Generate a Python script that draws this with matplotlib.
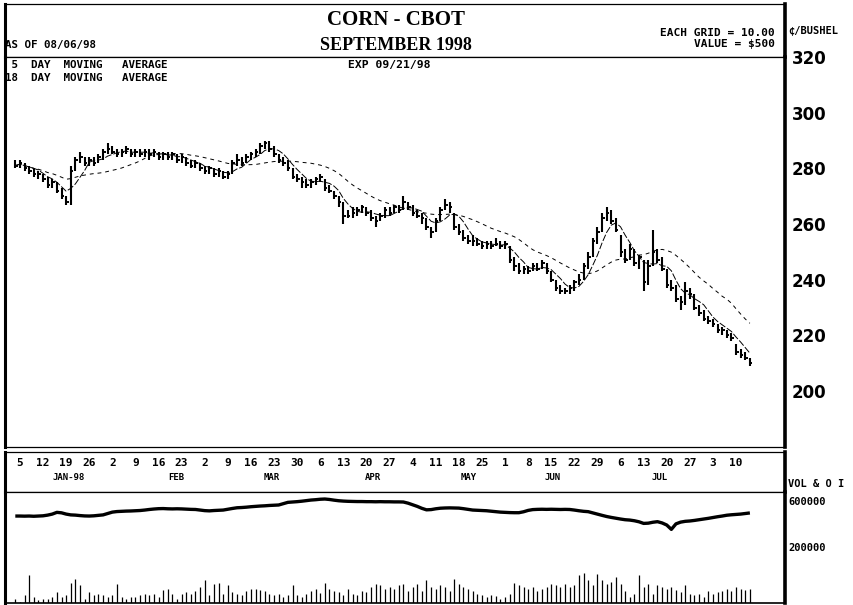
import numpy as np
import pandas as pd
import matplotlib
matplotlib.use("Agg")
import matplotlib.pyplot as plt
from matplotlib.transforms import blended_transform_factory

W, H = 854, 605

# trading days, Dec 26 1997 .. Aug 6 1998
DATES = pd.bdate_range("1997-12-26", "1998-08-06")

CLOSE = [281, 282, 280, 279, 278, 278,
         276, 274, 275, 272, 270, 268, 279, 283, 284, 282, 283, 282, 284, 286, 287, 286,
         285, 286, 287, 285, 286, 285, 286, 285, 286, 284, 285, 284, 285, 283, 284, 282,
         281, 282, 280, 279, 280, 278, 279, 277, 278, 282, 283, 282, 284, 285, 286, 288,
         289, 287, 285, 283, 282, 280, 277, 276, 275, 274, 275, 276, 277, 273, 272, 270,
         268, 263, 263, 264, 265, 266, 264, 262, 261, 263, 265, 264, 266, 265, 268, 266,
         264, 263, 262, 259, 257, 261, 265, 267, 266, 259, 257, 255, 254, 254, 253, 252,
         253, 252, 253, 252, 253, 247, 245, 243, 244, 243, 245, 244, 246, 243, 240, 237,
         236, 236, 237, 239, 240, 245, 248, 254, 257, 262, 264, 261, 258, 250, 247, 251,
         246, 248, 239, 245, 250, 247, 244, 238, 237, 233, 232, 236, 235, 230, 228, 226,
         225, 224, 222, 222, 220, 219, 214, 213, 212, 210]
HIGH = [283, 283, 282, 281, 280, 279,
        278, 277, 276, 275, 273, 270, 281, 284, 286, 284, 284, 284, 285, 287, 289, 288,
        287, 287, 288, 287, 287, 287, 287, 287, 287, 286, 286, 286, 286, 285, 285, 284,
        283, 283, 282, 281, 281, 280, 280, 279, 279, 283, 285, 284, 285, 286, 287, 289,
        290, 290, 288, 285, 284, 283, 280, 278, 277, 276, 276, 277, 278, 276, 274, 272,
        270, 268, 265, 266, 266, 267, 266, 265, 263, 264, 266, 266, 267, 267, 270, 268,
        267, 265, 264, 262, 259, 262, 266, 269, 268, 264, 260, 258, 256, 256, 255, 254,
        254, 254, 255, 254, 254, 252, 248, 246, 245, 245, 246, 246, 247, 246, 243, 240,
        238, 237, 238, 240, 242, 246, 250, 255, 259, 264, 266, 265, 262, 256, 251, 253,
        251, 249, 247, 247, 258, 251, 248, 244, 240, 238, 234, 239, 237, 235, 231, 229,
        227, 226, 224, 223, 222, 221, 217, 215, 214, 212]
LOW = [280, 280, 279, 278, 277, 276,
       275, 273, 273, 271, 269, 267, 267, 279, 282, 281, 281, 281, 282, 283, 285, 285,
       284, 284, 285, 284, 284, 284, 284, 283, 284, 283, 283, 283, 283, 282, 282, 281,
       280, 280, 279, 278, 278, 277, 277, 276, 276, 278, 281, 281, 282, 283, 284, 285,
       287, 286, 284, 282, 281, 279, 276, 275, 273, 273, 273, 274, 275, 272, 271, 269,
       266, 260, 262, 262, 263, 264, 263, 261, 259, 261, 262, 263, 264, 264, 265, 265,
       263, 262, 260, 258, 255, 257, 261, 265, 264, 258, 256, 254, 253, 252, 252, 251,
       251, 251, 252, 251, 251, 246, 243, 242, 242, 242, 243, 243, 244, 242, 239, 236,
       235, 235, 235, 236, 238, 240, 244, 248, 253, 257, 261, 260, 257, 248, 246, 247,
       245, 244, 236, 238, 245, 246, 243, 237, 236, 232, 229, 231, 233, 229, 227, 225,
       224, 223, 221, 220, 219, 218, 213, 212, 211, 209]

# volume, thousands of contracts
VOLUME_K = [12, 3, 24, 84, 18, 9,
            12, 12, 18, 33, 18, 24, 60, 72, 54, 12, 33, 24, 27, 24, 18, 24,
            57, 18, 12, 18, 18, 24, 27, 24, 27, 18, 39, 42, 27, 12, 27, 33,
            27, 36, 48, 69, 24, 57, 60, 27, 54, 33, 27, 24, 36, 42, 42, 39,
            36, 27, 24, 27, 18, 24, 54, 24, 18, 27, 36, 42, 30, 60, 42, 36,
            33, 24, 42, 27, 24, 36, 33, 48, 57, 54, 42, 48, 42, 54, 57, 36,
            48, 57, 36, 69, 48, 42, 54, 48, 36, 72, 57, 48, 42, 36, 27, 24,
            18, 24, 21, 12, 18, 27, 60, 54, 48, 42, 48, 36, 42, 48, 57, 54,
            48, 57, 48, 54, 84, 90, 69, 54, 87, 69, 57, 63, 78, 57, 36, 18,
            27, 84, 48, 57, 27, 54, 48, 42, 48, 39, 33, 54, 27, 24, 27, 18,
            36, 27, 33, 36, 42, 36, 48, 42, 39, 42]
# open interest, thousands of contracts
OPEN_INT_K = [478, 478, 477, 478, 476, 478,
              480, 486, 495, 510, 506, 495, 488, 486, 482, 479, 478, 480, 484, 488, 500, 512,
              517, 519, 521, 522, 524, 526, 530, 535, 539, 542, 543, 541, 540, 541, 540, 538,
              536, 535, 530, 525, 523, 526, 528, 530, 537, 544, 550, 552, 555, 559, 562, 565,
              567, 570, 572, 574, 585, 597, 600, 603, 607, 612, 617, 620, 624, 626, 622, 616,
              611, 608, 606, 605, 604, 604, 603, 603, 602, 603, 602, 602, 601, 601, 600, 590,
              576, 562, 545, 532, 534, 541, 546, 548, 549, 548, 547, 542, 536, 530, 528, 526,
              524, 520, 516, 512, 510, 508, 507, 507, 515, 527, 534, 536, 537, 536, 537, 536,
              535, 536, 535, 530, 524, 519, 516, 505, 494, 484, 474, 466, 459, 452, 446, 443,
              437, 428, 414, 416, 424, 429, 418, 400, 362, 410, 425, 432, 435, 440, 446, 452,
              458, 465, 472, 478, 485, 489, 492, 495, 500, 505]

DAY_LABELS = ["5", "12", "19", "26", "2", "9", "16", "23", "2", "9", "16", "23", "30",
              "6", "13", "20", "27", "4", "11", "18", "25", "1", "8", "15", "22", "29",
              "6", "13", "20", "27", "3", "10"]
MONTH_LABELS = ["JAN-98", "FEB", "MAR", "APR", "MAY", "JUN", "JUL"]
MONTH_POS = [5.5, 28.8, 49.6, 71.4, 92.2, 110.2, 133.5]
PRICE_TICKS = [200, 220, 240, 260, 280, 300, 320]

MONO = "DejaVu Sans Mono"
SERIF = "Liberation Serif"


def rect(x0, y0, x1, y1):
    return [x0 / W, 1 - y1 / H, (x1 - x0) / W, (y1 - y0) / H]


def box(a):
    a.set_xticks([]); a.set_yticks([])
    a.spines["left"].set_linewidth(2.2)
    a.spines["right"].set_linewidth(2.6)
    a.spines["top"].set_linewidth(0.9)
    a.spines["bottom"].set_linewidth(0.9)


x = np.arange(len(DATES)) - list(DATES).index(pd.Timestamp("1998-01-05"))
close = pd.Series(CLOSE, dtype=float)
ma5 = close.rolling(5, min_periods=1).mean()
ma18 = close.rolling(18, min_periods=1).mean()
XLIM = (-8.23, 160.6)

fig = plt.figure(figsize=(W / 100, H / 100), dpi=100)
fig.patch.set_facecolor("white")

# header box
axh = fig.add_axes(rect(5, 4, 785, 57))
box(axh)
axh.text(0.501, 0.70, "CORN - CBOT", transform=axh.transAxes, ha="center", va="center",
         fontsize=15, fontweight="bold", family=SERIF)
axh.text(0.501, 0.22, "SEPTEMBER 1998", transform=axh.transAxes, ha="center", va="center",
         fontsize=13, fontweight="bold", family=SERIF)
axh.text(0.0, 0.22, "AS OF 08/06/98", transform=axh.transAxes, ha="left", va="center",
         fontsize=7.8, fontweight="bold", family=MONO)
axh.text(0.987, 0.45, "EACH GRID = 10.00", transform=axh.transAxes, ha="right", va="center",
         fontsize=8, fontweight="bold", family=MONO)
axh.text(0.987, 0.24, "VALUE = $500", transform=axh.transAxes, ha="right", va="center",
         fontsize=8, fontweight="bold", family=MONO)
fig.text(788 / W, 1 - 31 / H, "¢/BUSHEL", ha="left", va="center", fontsize=7.5,
         fontweight="bold", family=MONO)

# price panel
ax = fig.add_axes(rect(5, 57, 785, 447))
box(ax)
ax.set_xlim(*XLIM)
ax.set_ylim(179.9, 320)
ax.vlines(x, LOW, HIGH, color="black", lw=1.5)
ax.hlines(CLOSE, x, x + 0.55, color="black", lw=1.4)
ax.plot(x, ma5, color="black", lw=0.7, dashes=(7, 2))
ax.plot(x, ma18, color="black", lw=0.7, dashes=(4, 4))
ax.yaxis.tick_right()
ax.set_yticks(PRICE_TICKS)
ax.tick_params(axis="y", length=0, pad=5)
for lab in ax.get_yticklabels():
    lab.set_fontsize(12)
    lab.set_fontweight("bold")
ax.text(0.0, 0.9795, " 5  DAY  MOVING   AVERAGE", transform=ax.transAxes, ha="left",
        va="center", fontsize=7.8, fontweight="bold", family=MONO)
ax.text(0.0, 0.945, "18  DAY  MOVING   AVERAGE", transform=ax.transAxes, ha="left",
        va="center", fontsize=7.8, fontweight="bold", family=MONO)
ax.text(343 / 780, 0.9795, "EXP 09/21/98", transform=ax.transAxes, ha="left",
        va="center", fontsize=8.2, fontweight="bold", family=MONO)

# date panel
axd = fig.add_axes(rect(5, 452, 785, 492))
box(axd)
axd.set_xlim(*XLIM)
axd.set_ylim(0, 1)
week_x = x[DATES.dayofweek == 0]
for xi, lab in zip(week_x, DAY_LABELS):
    axd.text(xi, 0.72, lab, ha="center", va="center", fontsize=8, fontweight="bold",
             family=MONO)
for xi, lab in zip(MONTH_POS, MONTH_LABELS):
    axd.text(xi, 0.36, lab, ha="center", va="center", fontsize=6.5, fontweight="bold",
             family=MONO)
fig.text(788 / W, 1 - 484 / H, "VOL & O I", ha="left", va="center", fontsize=7.5,
         fontweight="bold", family=MONO)

# volume / open interest panel
axv = fig.add_axes(rect(5, 492, 785, 603))
box(axv)
axv.spines["bottom"].set_linewidth(1.2)
axv.set_xlim(*XLIM)
axv.set_ylim(-278, 687)
axv.plot(x, OPEN_INT_K, color="black", lw=2.4, solid_capstyle="butt")
trans = blended_transform_factory(axv.transAxes, axv.transData)
for val, lab in [(600, "600000"), (200, "200000")]:
    axv.text(1.004, val, lab, transform=trans, ha="left", va="center", fontsize=7.5,
             fontweight="bold", family=MONO, clip_on=False)

axvol = axv.twinx()
axvol.set_ylim(0, 333)
axvol.vlines(x, 0, VOLUME_K, color="black", lw=0.9)
axvol.set_yticks([])
for s in axvol.spines.values():
    s.set_visible(False)
axvol.set_xlim(*XLIM)

fig.savefig("out.png", dpi=100, facecolor="white")
